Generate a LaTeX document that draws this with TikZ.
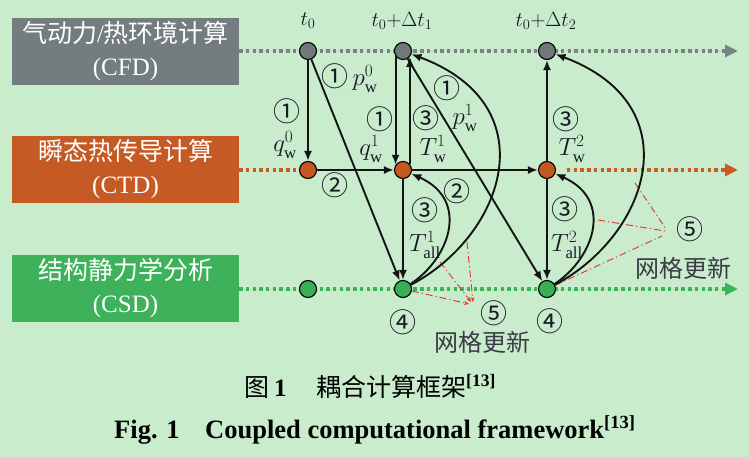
\documentclass[tikz,border=0pt]{standalone}
\usepackage{fontspec}
\setmainfont{Liberation Serif}
\newfontfamily\cjk{Noto Sans CJK SC}
\usetikzlibrary{arrows.meta,calc}
\definecolor{bg}{RGB}{200,236,204}
\definecolor{cfdc}{RGB}{115,124,126}
\definecolor{ctdc}{RGB}{198,90,36}
\definecolor{csdc}{RGB}{62,178,90}
\definecolor{lgray}{RGB}{122,130,132}
\definecolor{lorange}{RGB}{200,92,40}
\definecolor{lgreen}{RGB}{60,180,90}
\definecolor{ngray}{RGB}{112,120,123}
\definecolor{norange}{RGB}{197,88,34}
\definecolor{ngreen}{RGB}{59,175,85}
\definecolor{arrowc}{RGB}{20,20,20}
\definecolor{txt}{RGB}{25,25,40}
\definecolor{txt2}{RGB}{60,60,70}
\definecolor{redc}{RGB}{232,50,40}
\begin{document}
\begin{tikzpicture}[x=1pt,y=-1pt,
  box/.style={rectangle, minimum width=227pt, minimum height=67pt, inner sep=0pt, text=white, align=center, font=\fontsize{25}{33}\selectfont},
  dotline/.style={line width=3.6pt, dash pattern=on 3.4pt off 3.3pt},
  tipg/.style={-{Triangle[length=13pt,width=12pt]}},
  pt/.style={circle, draw=black, line width=1.1pt, minimum size=17pt, inner sep=0pt},
  arr/.style={draw=arrowc, line width=1.9pt, -{Latex[length=10pt,width=8pt]}},
  circ/.style={font=\cjk\fontsize{27}{27}\selectfont, text=txt, inner sep=0pt},
  mlab/.style={font=\fontsize{24}{24}\selectfont, text=txt, inner sep=0pt},
  tlab/.style={font=\fontsize{20}{20}\selectfont, text=txt, inner sep=0pt},
  redl/.style={draw=redc, line width=0.9pt, dash pattern=on 7pt off 3pt on 1.2pt off 3pt},
  redtip/.style={-{Stealth[length=5pt,width=4pt]}},
  cjklab/.style={font=\cjk\fontsize{24}{24}\selectfont, text=txt2, inner sep=0pt}
]
\fill[bg] (0,0) rectangle (749,457);
\useasboundingbox (0,0) rectangle (749,457);

% boxes
\node[box, fill=cfdc] (cfd) at (125.5,51.5) {{\cjk 气动力}/{\cjk 热环境计算}\\(CFD)};
\node[box, fill=ctdc] (ctd) at (125.5,169.5) {{\cjk 瞬态热传导计算}\\(CTD)};
\node[box, fill=csdc] (csd) at (125.5,288.5) {{\cjk 结构静力学分析}\\(CSD)};

% line end coordinates
\coordinate (gend) at (738,51);
\coordinate (oend) at (738,170);
\coordinate (send) at (738,289);
\coordinate (ostart) at (567,170);

% dotted time lines
\draw[dotline, draw=lgray, tipg, fill=lgray] (cfd.east |- gend) -- (gend);
\draw[dotline, draw=lgreen, tipg, fill=lgreen] (csd.east |- send) -- (send);
\draw[dotline, draw=lorange] (ctd.east |- oend) -- (300,170);
\draw[dotline, draw=lorange, tipg, fill=lorange] (ostart) -- (oend);

% nodes
\node[pt, fill=ngray] (G0) at (308,51) {};
\node[pt, fill=ngray] (G1) at (403,51) {};
\node[pt, fill=ngray] (G2) at (547,51) {};
\node[pt, fill=norange] (O0) at (308,170) {};
\node[pt, fill=norange] (O1) at (403,170) {};
\node[pt, fill=norange] (O2) at (547,170) {};
\node[pt, fill=ngreen] (S0) at (308,289) {};
\node[pt, fill=ngreen] (S1) at (403,289) {};
\node[pt, fill=ngreen] (S2) at (547,289) {};

% time labels
\node[tlab] (tl0) at (308,21) {$t_0$};
\node[tlab] (tl1) at (402,21) {$t_0{+}\Delta t_1$};
\node[tlab] (tl2) at (546,21) {$t_0{+}\Delta t_2$};

% red dash-dot (mesh update)
\coordinate (ra1) at (467,242);
\coordinate (ra2) at (440,262);
\coordinate (re1) at (473,302);
\coordinate (re2) at (471,302);
\coordinate (re3) at (469,304);
\draw[redl, redtip] (ra1) -- (re1);
\draw[redl, redtip] (ra2) -- (re2);
\draw[redl, redtip] (S1) -- (re3);
\coordinate (rb1) at (635,183);
\coordinate (rb2) at (598,220);
\coordinate (rf1) at (666,229);
\coordinate (rf2) at (665,231);
\coordinate (rf3) at (662,236);
\draw[redl] (rb1) -- (rf1);
\draw[redl] (rb2) -- (rf2);
\draw[redl] (S2) -- (rf3);

% arrows
\draw[arr] (G0) -- (O0);
\draw[arr] (G0) -- (S1);
\draw[arr] (O0) -- (O1);
\draw[arr] (G1.-145) -- (O1.145);
\draw[arr] (O1.40) -- (G1.-40);
\draw[arr] (O1) -- (S1);
\draw[arr] (S1) .. controls (450,258) and (470,200) .. (O1);
\draw[arr] (S1) .. controls (505,235) and (548,105) .. (G1);
\draw[arr] (G1) -- (S2);
\draw[arr] (O1) -- (O2);
\draw[arr] (O2) -- (G2);
\draw[arr] (O2) -- (S2);
\draw[arr] (S2) .. controls (594,258) and (614,200) .. (O2);
\draw[arr] (S2) .. controls (649,235) and (692,105) .. (G2);

% labels
\node[circ] (c1a) at (335,76) {①};
\node[mlab] (pw0) at (365,79) {$p_{\mathrm{w}}^{0}$};
\node[circ] (c1b) at (287,111) {①};
\node[mlab] (qw0) at (285,145) {$q_{\mathrm{w}}^{0}$};
\node[circ] (c1c) at (380,119) {①};
\node[mlab] (qw1) at (371,149) {$q_{\mathrm{w}}^{1}$};
\node[circ] (c3a) at (426,118) {③};
\node[mlab] (Tw1) at (433,149) {$T_{\mathrm{w}}^{1}$};
\node[circ] (c1d) at (447,88) {①};
\node[mlab] (pw1) at (465,118) {$p_{\mathrm{w}}^{1}$};
\node[circ] (c2a) at (335,185) {②};
\node[circ] (c2b) at (457,191) {②};
\node[circ] (c3b) at (425,210) {③};
\node[mlab] (Ta1) at (425,245) {$T_{\mathrm{all}}^{1}$};
\node[circ] (c3c) at (566,119) {③};
\node[mlab] (Tw2) at (572,149) {$T_{\mathrm{w}}^{2}$};
\node[circ] (c3d) at (565,209) {③};
\node[mlab] (Ta2) at (567,245) {$T_{\mathrm{all}}^{2}$};
\node[circ] (c4a) at (403,322) {④};
\node[circ] (c4b) at (550,321) {④};
\node[circ] (c5a) at (494,313) {⑤};
\node[cjklab] (mg1) at (482,342) {网格更新};
\node[circ] (c5b) at (690,229) {⑤};
\node[cjklab] (mg2) at (683,268) {网格更新};

% caption
\node[anchor=base west, inner sep=0pt, font=\fontsize{25}{25}\selectfont] (cap1) at (244,396) {{\cjk 图}\hspace{5pt}\textbf{1}};
\node[anchor=base west, inner sep=0pt, font=\fontsize{25}{25}\selectfont] (cap2) at (316,396) {{\cjk 耦合计算框架}\textsuperscript{\textbf{[13]}}};
\node[anchor=base west, inner sep=0pt, font=\bfseries\fontsize{26.5}{26.5}\selectfont] (fig1) at (114,438) {Fig. 1};
\node[anchor=base west, inner sep=0pt, font=\bfseries\fontsize{26.5}{26.5}\selectfont] (fig2) at (205,438) {Coupled computational framework\textsuperscript{[13]}};
\end{tikzpicture}
\end{document}
